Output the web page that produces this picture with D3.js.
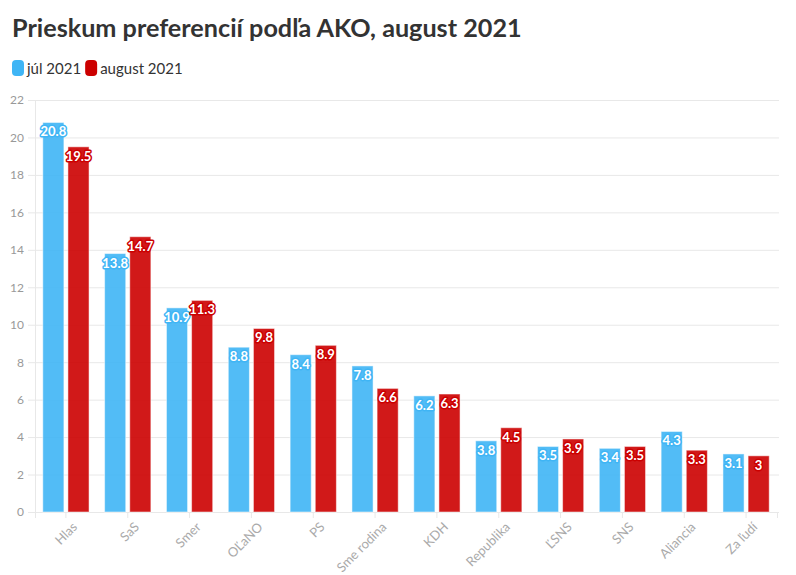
<!DOCTYPE html>
<html>
<head>
<meta charset="utf-8">
<script src="https://cdn.jsdelivr.net/npm/d3@7"></script>
<style>
  body { margin: 0; background: #fff; font-family: Lato, "Open Sans", sans-serif; }
</style>
</head>
<body>
<div id="chart"></div>
<script>
// data
var parties = ["Hlas", "SaS", "Smer", "OĽaNO", "PS", "Sme rodina", "KDH", "Republika", "ĽSNS", "SNS", "Aliancia", "Za ľudí"];
var seriesNames = ["júl 2021", "august 2021"];
var julValues = [20.8, 13.8, 10.9, 8.8, 8.4, 7.8, 6.2, 3.8, 3.5, 3.4, 4.3, 3.1];
var augValues = [19.5, 14.7, 11.3, 9.8, 8.9, 6.6, 6.3, 4.5, 3.9, 3.5, 3.3, 3];
var yTicks = [0, 2, 4, 6, 8, 10, 12, 14, 16, 18, 20, 22];
var colors = ["#3fb5f5", "#cc0000"];

var width = 796, height = 575;
var margin = {top: 100, right: 19, bottom: 63, left: 35};
var innerW = width - margin.left - margin.right,
    innerH = height - margin.top - margin.bottom;

var rows = parties.map(function(p, i) {
  return {party: p, values: [julValues[i], augValues[i]]};
});

var svg = d3.select("#chart").append("svg")
  .attr("width", width)
  .attr("height", height);

// title
svg.append("text")
  .attr("x", 12)
  .attr("y", 37)
  .style("font-size", "25.2px")
  .style("font-weight", "bold")
  .style("fill", "#333")
  .text("Prieskum preferencií podľa AKO, august 2021");

// legend
var legend = svg.append("g").attr("transform", "translate(12,60)");
var lx = 0;
seriesNames.forEach(function(name, i) {
  var g = legend.append("g").attr("transform", "translate(" + lx + ",0)");
  g.append("rect")
    .attr("width", 12).attr("height", 16)
    .attr("rx", 4)
    .attr("fill", colors[i]);
  var t = g.append("text")
    .attr("x", 15).attr("y", 13.5)
    .style("font-size", "15px")
    .style("fill", "#333")
    .text(name);
  lx += 15 + t.node().getComputedTextLength() + 4;
});

var g = svg.append("g")
  .attr("transform", "translate(" + margin.left + "," + margin.top + ")");

var x0 = d3.scaleBand()
  .domain(parties)
  .range([0, innerW])
  .padding(0);

var x1 = d3.scaleBand()
  .domain([0, 1])
  .range([0, x0.bandwidth()])
  .paddingInner(0.16)
  .paddingOuter(0.31);

var y = d3.scaleLinear()
  .domain([0, 22])
  .range([innerH, 0]);

// grid
g.append("g")
  .selectAll("line")
  .data(yTicks)
  .enter().append("line")
  .attr("x1", 0).attr("x2", innerW + 2)
  .attr("y1", function(d) { return y(d) + 0.5; })
  .attr("y2", function(d) { return y(d) + 0.5; })
  .attr("stroke", "#e8e8e8");

// y axis
var yAxis = g.append("g")
  .call(d3.axisLeft(y).tickValues(yTicks).tickSize(7).tickPadding(4));
yAxis.select(".domain").attr("stroke", "#e8e8e8");
yAxis.selectAll(".tick line").attr("stroke", "#e8e8e8");
yAxis.selectAll("text")
  .style("font-family", "Lato, sans-serif")
  .style("font-size", "12px")
  .style("fill", "#999");

// x axis
var xAxis = g.append("g")
  .attr("transform", "translate(0," + innerH + ")")
  .call(d3.axisBottom(x0).tickSize(6).tickPadding(6));
xAxis.select(".domain").attr("stroke", "#e8e8e8");
xAxis.selectAll(".tick line").attr("stroke", "#e8e8e8");
xAxis.selectAll("text")
  .style("font-family", "Lato, sans-serif")
  .style("font-size", "13px")
  .style("fill", "#aaa")
  .style("text-anchor", "end")
  .attr("dx", "-0.2em")
  .attr("dy", "0.6em")
  .attr("transform", "rotate(-45)");

// bars
var groups = g.selectAll(".group")
  .data(rows)
  .enter().append("g")
  .attr("class", "group")
  .attr("transform", function(d) { return "translate(" + x0(d.party) + ",0)"; });

groups.selectAll("rect")
  .data(function(d) { return d.values.map(function(v, i) { return {i: i, v: v}; }); })
  .enter().append("rect")
  .attr("x", function(d) { return x1(d.i); })
  .attr("y", function(d) { return y(d.v); })
  .attr("width", x1.bandwidth())
  .attr("height", function(d) { return innerH - y(d.v); })
  .attr("fill", function(d) { return colors[d.i]; })
  .attr("fill-opacity", 0.9)
  .attr("stroke", "#fff")
  .attr("stroke-opacity", 0.5);

// value labels with a halo in the bar colour
groups.selectAll(".lbl")
  .data(function(d) { return d.values.map(function(v, i) { return {i: i, v: v}; }); })
  .enter().append("text")
  .attr("class", "lbl")
  .attr("x", function(d) { return x1(d.i) + x1.bandwidth() / 2; })
  .attr("y", function(d) { return y(d.v) + 14; })
  .attr("text-anchor", "middle")
  .style("font-family", "Lato, sans-serif")
  .style("font-size", "13px")
  .style("font-weight", "bold")
  .style("fill", "#fff")
  .style("stroke", function(d) { return colors[d.i]; })
  .style("stroke-width", "3px")
  .style("paint-order", "stroke")
  .style("stroke-linejoin", "round")
  .text(function(d) { return d.v; });
</script>
</body>
</html>
